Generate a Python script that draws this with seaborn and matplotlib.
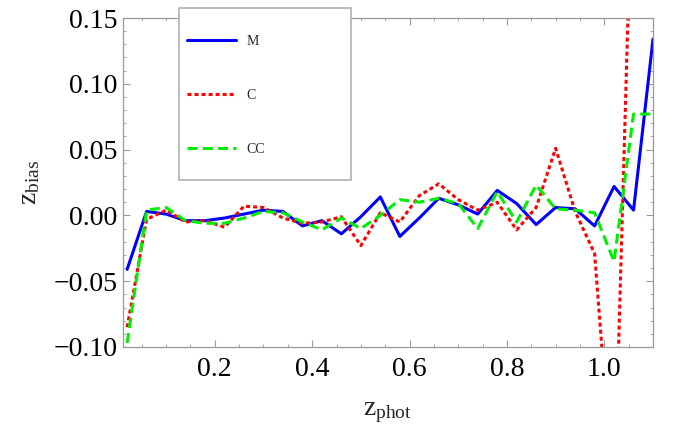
import numpy as np
import pandas as pd
import seaborn as sns
import matplotlib as mlt
from matplotlib import pyplot as plt
from matplotlib.ticker import MultipleLocator, FuncFormatter
from matplotlib.patches import Rectangle

# bin centres of z_phot
z_phot = [0.02, 0.06, 0.10, 0.14, 0.18, 0.22, 0.26, 0.30, 0.34, 0.38,
          0.42, 0.46, 0.50, 0.54, 0.58, 0.62, 0.66, 0.70, 0.74, 0.78,
          0.82, 0.86, 0.90, 0.94, 0.98, 1.02, 1.06, 1.10]

bias_M = [-0.041, 0.003, 0.001, -0.004, -0.004, -0.002, 0.001, 0.004, 0.003, -0.008,
          -0.004, -0.014, -0.001, 0.014, -0.016, -0.002, 0.013, 0.008, 0.001, 0.019,
          0.009, -0.007, 0.006, 0.005, -0.008, 0.022, 0.004, 0.134]
bias_C = [-0.085, -0.003, 0.004, -0.005, -0.004, -0.009, 0.007, 0.006, -0.002, -0.006,
          -0.005, -0.001, -0.023, 0.002, -0.005, 0.015, 0.024, 0.012, 0.004, 0.010,
          -0.011, 0.006, 0.051, 0.003, -0.029, -0.22, 0.30, 0.25]
bias_CC = [-0.097, 0.004, 0.006, -0.004, -0.006, -0.006, -0.002, 0.003, 0.002, -0.005,
           -0.011, -0.002, -0.010, 0.000, 0.012, 0.010, 0.013, 0.009, -0.010, 0.018,
           -0.005, 0.023, 0.005, 0.004, 0.002, -0.035, 0.077, 0.077]

labels = ['M', 'C', 'CC']
colors = ['#0000ff', '#ff0000', '#00ee00']

sns.set_style('ticks')
plt.rcParams['font.family'] = ['Liberation Serif', 'DejaVu Serif']
plt.rcParams['mathtext.fontset'] = 'custom'
plt.rcParams['mathtext.rm'] = 'Liberation Serif'
plt.rcParams['mathtext.it'] = 'Liberation Serif:italic'

df = pd.DataFrame({'z': z_phot, 'M': bias_M, 'C': bias_C, 'CC': bias_CC})

fig = plt.figure(figsize=(6.95, 4.34), dpi=100)
ax = fig.add_axes([0.1766, 0.2005, 0.763, 0.758])

styles = {'M': dict(linestyle='-'),
          'C': dict(linestyle=(0, (1.3, 1.0))),
          'CC': dict(linestyle=(0, (3.3, 1.7)))}
for lab, col in zip(labels, colors):
    sns.lineplot(data=df, x='z', y=lab, ax=ax, color=col, lw=2.2, label=lab,
                 sort=False, legend=False, **styles[lab])

ax.set_xlim(0.011, 1.10)
ax.set_ylim(-0.10, 0.15)

ax.xaxis.set_major_locator(MultipleLocator(0.2))
ax.xaxis.set_minor_locator(MultipleLocator(0.05))
ax.yaxis.set_major_locator(MultipleLocator(0.05))
ax.yaxis.set_minor_locator(MultipleLocator(0.01))
ax.xaxis.set_major_formatter(FuncFormatter(lambda v, p: f'{v:.1f}'))
ax.yaxis.set_major_formatter(FuncFormatter(
    lambda v, p: '0.00' if abs(v) < 1e-9 else f'{v:.2f}'.replace('-', '\u2212')))

for s in ax.spines.values():
    s.set_color('#9a9a9a')
    s.set_linewidth(0.9)
ax.tick_params(which='both', direction='in', top=True, right=True,
               color='#9a9a9a', labelsize=20, labelcolor='black')
ax.tick_params(axis='x', which='major', length=5, pad=7)
ax.tick_params(axis='y', which='major', length=5, pad=4)
ax.tick_params(which='minor', length=2.5)

ax.set_xlabel(r'$\mathregular{z_{phot}}$', fontsize=20, labelpad=13)
ax.set_ylabel(r'$\mathregular{z_{bias}}$', fontsize=20, labelpad=8)

# legend box (drawn separately so the padding can differ from the entries)
box = Rectangle((179 / 695, 1 - 180 / 434), 172 / 695, 172 / 434,
                transform=fig.transFigure, facecolor='white',
                edgecolor='#b0b0b0', linewidth=1.2, zorder=5)
fig.patches.append(box)
leg = fig.legend(loc='upper left', bbox_to_anchor=(187 / 695, 1 - 35 / 434),
                 fontsize=10, frameon=False, handlelength=3.5,
                 handletextpad=0.8, labelspacing=2.95, borderpad=0,
                 borderaxespad=0)
leg.set_zorder(6)

fig.savefig('out.png', dpi=100)
